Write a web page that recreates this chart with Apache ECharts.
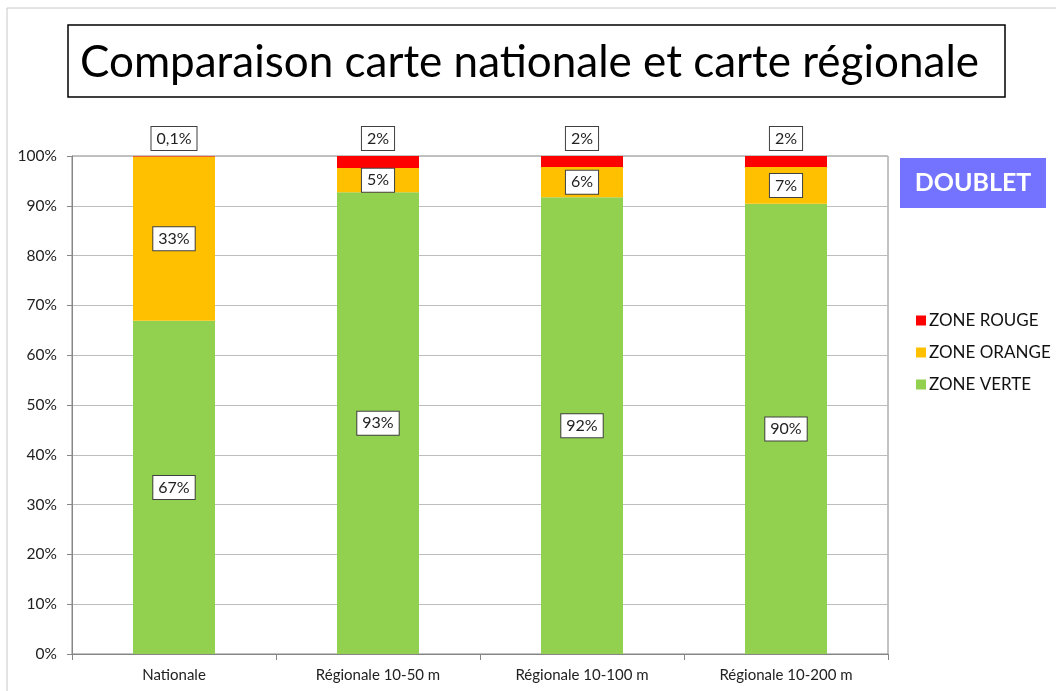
<!DOCTYPE html>
<html>
<head>
<meta charset="utf-8">
<script src="https://cdn.jsdelivr.net/npm/echarts@6/dist/echarts.min.js"></script>
<style>
  html, body { margin: 0; padding: 0; background: #fff; }
  #chart { width: 1056px; height: 691px; }
</style>
</head>
<body>
<div id="chart"></div>
<script>
// Share of each zone per map type (percent)
const categories = ['Nationale', 'Régionale 10-50 m', 'Régionale 10-100 m', 'Régionale 10-200 m'];
const zoneVerte  = [66.9, 92.7, 91.7, 90.4];
const zoneOrange = [33.0, 4.9, 6.1, 7.4];
const zoneRouge  = [0.1, 2.4, 2.2, 2.2];
const titleText = 'Comparaison carte nationale et carte régionale';
const badgeText = 'DOUBLET';

const FONT = 'Lato, "Open Sans", sans-serif';

function pct(v) {
  if (v < 1) return v.toFixed(1).replace('.', ',') + '%';
  return Math.round(v) + '%';
}

const boxLabel = {
  show: true,
  formatter: p => pct(p.value),
  fontFamily: FONT,
  fontSize: 16,
  color: '#222',
  backgroundColor: '#fff',
  borderColor: '#404040',
  borderWidth: 1,
  padding: [4, 5, 3, 5]
};

const chart = echarts.init(document.getElementById('chart'), null, { renderer: 'canvas' });

chart.setOption({
  backgroundColor: '#fff',
  animation: false,
  grid: { left: 72, right: 168, top: 156, bottom: 37, show: true, borderColor: '#868686', borderWidth: 1 },
  legend: {
    orient: 'vertical',
    left: 911,
    top: 307,
    itemWidth: 10,
    itemHeight: 10,
    itemGap: 15,
    icon: 'rect',
    data: ['ZONE ROUGE', 'ZONE ORANGE', 'ZONE VERTE'],
    textStyle: { fontFamily: FONT, fontSize: 17, lineHeight: 17, color: '#111', padding: [0, 0, 0, -2] }
  },
  xAxis: {
    type: 'category',
    data: categories,
    axisLine: { lineStyle: { color: '#868686' } },
    axisTick: { show: true, length: 6, lineStyle: { color: '#868686' } },
    axisLabel: { fontFamily: FONT, fontSize: 15, color: '#222', margin: 14 }
  },
  yAxis: {
    type: 'value',
    min: 0,
    max: 100,
    interval: 10,
    axisLine: { show: true, lineStyle: { color: '#868686' } },
    axisTick: { show: true, length: 5, lineStyle: { color: '#868686' } },
    splitLine: { lineStyle: { color: '#bdbdbd' } },
    axisLabel: { formatter: v => v + '%', fontFamily: FONT, fontSize: 15.5, color: '#222', margin: 15 }
  },
  series: [
    {
      name: 'ZONE VERTE', type: 'bar', stack: 'z', barWidth: 82,
      itemStyle: { color: '#92D050' },
      label: Object.assign({ position: 'inside' }, boxLabel),
      data: zoneVerte
    },
    {
      name: 'ZONE ORANGE', type: 'bar', stack: 'z', barWidth: 82,
      itemStyle: { color: '#FFC000' },
      label: Object.assign({ position: 'inside' }, boxLabel),
      data: zoneOrange
    },
    {
      name: 'ZONE ROUGE', type: 'bar', stack: 'z', barWidth: 82,
      itemStyle: { color: '#FF0000' },
      label: Object.assign({ position: 'top', distance: 6 }, boxLabel),
      data: zoneRouge
    }
  ],
  graphic: [
    // outer chart frame
    { type: 'rect', shape: { x: 7, y: 8, width: 1060, height: 700 }, style: { fill: null, stroke: '#c8c8c8', lineWidth: 1 }, silent: true },
    // title box
    { type: 'rect', shape: { x: 68, y: 25, width: 937, height: 72 }, style: { fill: '#fff', stroke: '#000', lineWidth: 1.5 } },
    { type: 'text', x: 80, y: 63, style: { text: titleText, font: '44px ' + FONT, fill: '#000', verticalAlign: 'middle' } },
    // badge
    { type: 'rect', shape: { x: 900, y: 158, width: 146, height: 50 }, style: { fill: '#7373FF' } },
    { type: 'text', x: 973, y: 183, style: { text: badgeText, font: 'bold 25px ' + FONT, fill: '#fff', align: 'center', verticalAlign: 'middle' } }
  ]
});
</script>
</body>
</html>
